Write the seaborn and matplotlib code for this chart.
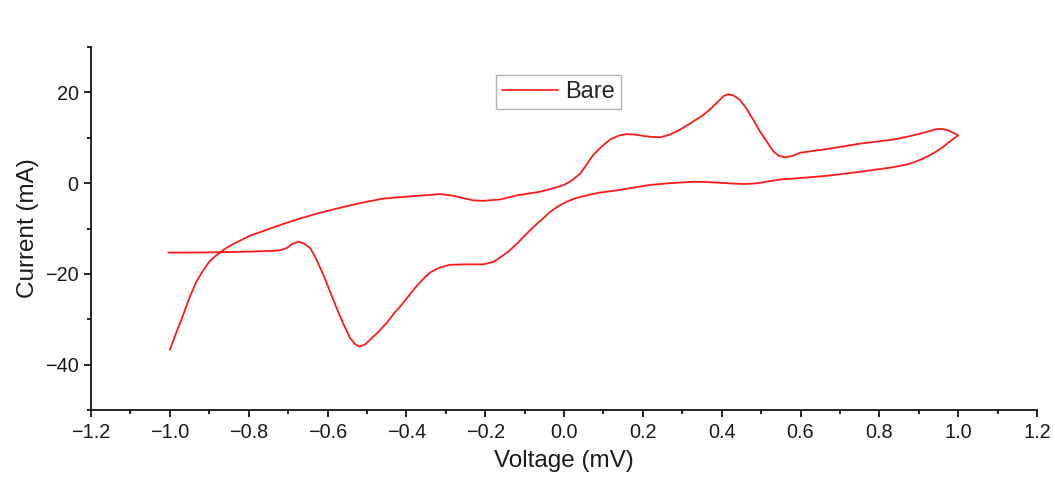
import matplotlib
matplotlib.use("Agg")
import matplotlib.pyplot as plt
import seaborn as sns
import pandas as pd
from matplotlib.ticker import MultipleLocator

# Cyclic voltammogram: forward (cathodic->anodic) sweep then return sweep
voltage_fwd = [-1.004, -0.95, -0.9, -0.85, -0.8, -0.76, -0.735, -0.72, -0.703, -0.69,
               -0.674, -0.66, -0.644, -0.63, -0.611, -0.594, -0.577, -0.56, -0.543,
               -0.53, -0.519, -0.505, -0.492, -0.47, -0.45, -0.43, -0.408, -0.39,
               -0.374, -0.357, -0.34, -0.315, -0.289, -0.25, -0.205, -0.18, -0.162,
               -0.14, -0.12, -0.1, -0.078, -0.056, -0.036, -0.015, 0.007, 0.03, 0.058,
               0.09, 0.134, 0.175, 0.218, 0.27, 0.328, 0.36, 0.396, 0.43, 0.455,
               0.48, 0.497, 0.52, 0.548, 0.582, 0.666, 0.751, 0.835, 0.875, 0.903,
               0.925, 0.945, 0.962, 0.979, 1.0]
current_fwd = [-15.3, -15.3, -15.25, -15.2, -15.1, -15.0, -14.9, -14.8, -14.3, -13.4,
               -12.9, -13.3, -14.3, -16.5, -20.1, -23.8, -27.5, -31.0, -34.1,
               -35.5, -36.0, -35.6, -34.5, -32.7, -30.8, -28.6, -26.4, -24.4,
               -22.7, -21.1, -19.7, -18.6, -18.0, -17.9, -17.9, -17.4, -16.4,
               -15.0, -13.4, -11.6, -9.7, -8.0, -6.4, -5.1, -4.1, -3.3, -2.7,
               -2.1, -1.6, -1.0, -0.4, 0.0, 0.3, 0.25, 0.07, -0.1, -0.2,
               -0.1, 0.07, 0.4, 0.8, 1.0, 1.6, 2.5, 3.5, 4.2, 5.1,
               6.0, 7.0, 8.0, 9.2, 10.5]

voltage_rev = [1.0, 0.99, 0.975, 0.96, 0.945, 0.925, 0.903, 0.87, 0.835, 0.751, 0.666,
               0.599, 0.58, 0.561, 0.545, 0.531, 0.514, 0.497, 0.48, 0.463, 0.446,
               0.43, 0.417, 0.405, 0.396, 0.37, 0.35, 0.328, 0.306, 0.286, 0.265,
               0.244, 0.22, 0.201, 0.18, 0.159, 0.14, 0.117, 0.095, 0.074, 0.055,
               0.041, 0.02, 0.0, -0.03, -0.061, -0.09, -0.12, -0.162, -0.205, -0.23,
               -0.25, -0.28, -0.315, -0.34, -0.374, -0.415, -0.458, -0.5, -0.543,
               -0.585, -0.627, -0.67, -0.712, -0.755, -0.797, -0.82, -0.839, -0.857,
               -0.873, -0.886, -0.898, -0.915, -0.932, -0.95, -0.966, -0.983, -1.0]
current_rev = [10.5, 11.0, 11.6, 11.95, 11.9, 11.4, 10.9, 10.2, 9.6, 8.7, 7.5,
               6.7, 6.0, 5.7, 6.0, 7.0, 9.2, 11.4, 14.0, 16.4, 18.4,
               19.3, 19.6, 19.2, 18.4, 16.2, 14.8, 13.6, 12.4, 11.4, 10.6,
               10.1, 10.2, 10.4, 10.7, 10.8, 10.5, 9.6, 8.0, 6.2, 3.8,
               2.1, 0.6, -0.4, -1.2, -1.9, -2.3, -2.7, -3.6, -3.9, -3.8,
               -3.4, -2.8, -2.4, -2.6, -2.8, -3.1, -3.4, -4.1, -4.9,
               -5.8, -6.7, -7.8, -9.0, -10.3, -11.6, -12.6, -13.4, -14.3,
               -15.3, -16.2, -17.1, -19.2, -21.6, -25.2, -29.0, -32.8, -36.7]

series_name = "Bare"

df = pd.DataFrame({
    "Voltage": voltage_fwd + voltage_rev,
    "Current": current_fwd + current_rev,
    "Sample": [series_name] * (len(voltage_fwd) + len(voltage_rev)),
})

sns.set_theme(style="ticks")
plt.rcParams["font.family"] = ["Liberation Sans", "DejaVu Sans"]

fig = plt.figure(figsize=(10.55, 4.88), dpi=100)
ax = fig.add_axes([91 / 1055, 1 - 410 / 488, 946 / 1055, 363 / 488])

sns.lineplot(data=df, x="Voltage", y="Current", hue="Sample", sort=False,
             estimator=None, palette={series_name: "#ff1a1a"}, linewidth=1.3, ax=ax)
for ln in ax.get_lines():
    ln.set_solid_joinstyle("round")

ax.set_xlim(-1.2, 1.2)
ax.set_ylim(-50, 30)
ax.xaxis.set_minor_locator(MultipleLocator(0.1))
ax.yaxis.set_minor_locator(MultipleLocator(10))
ax.set_xticks([-1.2, -1.0, -0.8, -0.6, -0.4, -0.2, 0.0, 0.2, 0.4, 0.6, 0.8, 1.0, 1.2])
ax.set_xticklabels(["\u22121.2", "\u22121.0", "\u22120.8", "\u22120.6", "\u22120.4", "\u22120.2",
                    "0.0", "0.2", "0.4", "0.6", "0.8", "1.0", "1.2"])
ax.set_yticks([-40, -20, 0, 20])
ax.set_yticklabels(["\u221240", "\u221220", "0", "20"])

for s in ["top", "right"]:
    ax.spines[s].set_visible(False)
for s in ["left", "bottom"]:
    ax.spines[s].set_linewidth(1.2)
    ax.spines[s].set_color("black")

ax.tick_params(axis="both", which="major", direction="out", length=5, width=1.2,
               labelsize=14.3, colors="black", labelcolor="#1a1a1a", pad=4)
ax.tick_params(axis="both", which="minor", direction="out", length=3, width=1.2,
               colors="black")

ax.set_xlabel("Voltage (mV)", fontsize=17.5, color="#1a1a1a", labelpad=6)
ax.set_ylabel("Current (mA)", fontsize=17.5, color="#1a1a1a", labelpad=4)

leg = ax.legend(loc="upper left", bbox_to_anchor=(0.428, 0.923), borderaxespad=0,
                fontsize=17, frameon=True, fancybox=False, handlelength=2.4,
                handletextpad=0.3, borderpad=0.25, title=None)
leg.get_frame().set_edgecolor("#a0a0a0")
leg.get_frame().set_linewidth(1.0)
for line in leg.get_lines():
    line.set_linewidth(1.2)

fig.savefig("out.png", dpi=100, facecolor="white")
